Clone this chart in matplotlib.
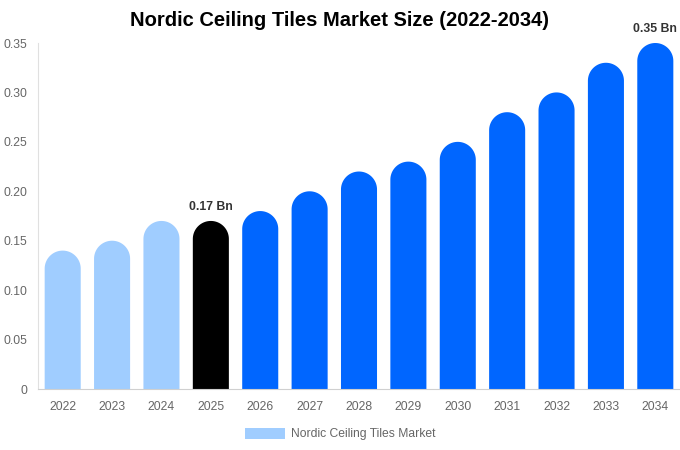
import matplotlib
matplotlib.use("Agg")
import numpy as np
import matplotlib.pyplot as plt
from matplotlib.patches import PathPatch, Patch
from matplotlib.path import Path
from matplotlib.ticker import FuncFormatter

plt.rcParams['font.family'] = ['Liberation Sans', 'DejaVu Sans']

years = ["2022", "2023", "2024", "2025", "2026", "2027", "2028",
         "2029", "2030", "2031", "2032", "2033", "2034"]
values = [0.14, 0.15, 0.17, 0.17, 0.18, 0.20, 0.22, 0.23, 0.25, 0.28, 0.30, 0.33, 0.35]
colors = ["#A0CDFF"] * 3 + ["#000000"] + ["#0066FF"] * 9
labels = {3: "0.17 Bn", 12: "0.35 Bn"}
y_ticks = [0, 0.05, 0.10, 0.15, 0.20, 0.25, 0.30, 0.35]

fig = plt.figure(figsize=(6.8, 4.5), dpi=100)
ax = fig.add_axes([38 / 680, 61 / 450, 642 / 680, 346 / 450])

ymax = 0.35
ax.set_xlim(-0.5, len(years) - 0.5)
ax.set_ylim(0, ymax)

bar_w = 0.73
# rounded cap: half bar width in pixels, converted to data units on y
ax_w_px = 642
ax_h_px = 346
r_px = bar_w / len(years) * ax_w_px / 2
rx = bar_w / 2
ry = r_px / ax_h_px * ymax


def rounded_bar(xc, h):
    t = np.linspace(np.pi, 0, 48)
    top = h - ry
    pts = [(xc - rx, 0), (xc - rx, top)]
    pts += [(xc + rx * np.cos(a), top + ry * np.sin(a)) for a in t[1:-1]]
    pts += [(xc + rx, top), (xc + rx, 0), (xc - rx, 0)]
    codes = [Path.MOVETO] + [Path.LINETO] * (len(pts) - 2) + [Path.CLOSEPOLY]
    return Path(pts, codes)


x = list(range(len(years)))
for i, v in enumerate(values):
    ax.add_patch(PathPatch(rounded_bar(i, v), facecolor=colors[i], edgecolor="none",
                           linewidth=0))
    if i in labels:
        ax.annotate(labels[i], (i, v), xytext=(0, 6), textcoords="offset points",
                    ha="center", va="bottom", fontsize=8.8, fontweight="bold",
                    color="#333333", annotation_clip=False)

ax.set_xticks(x)
ax.set_xticklabels(years)
ax.set_yticks(y_ticks)
ax.yaxis.set_major_formatter(FuncFormatter(lambda v, p: "0" if v == 0 else f"{v:.2f}"))
ax.tick_params(axis="both", length=0, labelsize=8.7, labelcolor="#666666")
ax.tick_params(axis="x", pad=9)
ax.tick_params(axis="y", pad=8)

for s in ["top", "right"]:
    ax.spines[s].set_visible(False)
ax.spines["left"].set_color("#e0e0e0")
ax.spines["bottom"].set_color("#d0d0d0")

fig.suptitle("Nordic Ceiling Tiles Market Size (2022-2034)", x=0.5, y=0.975,
             fontsize=14.5, fontweight="bold", color="#000000")

handle = Patch(facecolor="#A0CDFF", edgecolor="none")
fig.legend([handle], ["Nordic Ceiling Tiles Market"], loc="center",
           bbox_to_anchor=(0.5, 16 / 450), frameon=False, fontsize=8.7,
           labelcolor="#666666", handlelength=3.3, handleheight=1.0,
           handletextpad=0.5)

fig.savefig("out.png", dpi=100)
